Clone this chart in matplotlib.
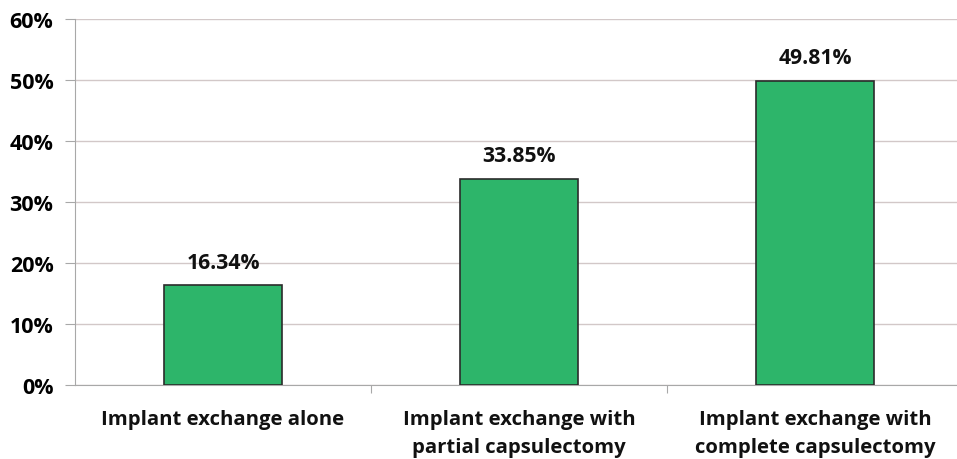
import numpy as np
import matplotlib.pyplot as plt
from matplotlib.ticker import FuncFormatter

# share of patients per treatment group
categories = ['Implant exchange alone',
              'Implant exchange with\npartial capsulectomy',
              'Implant exchange with\ncomplete capsulectomy']
values = [16.34, 33.85, 49.81]
yticks = [0, 10, 20, 30, 40, 50, 60]

plt.rcParams['font.family'] = ['Open Sans', 'DejaVu Sans']

fig = plt.figure(figsize=(9.57, 4.6), dpi=100)
ax = fig.add_axes([75 / 957, 74 / 460, 1 - 75 / 957, 366 / 460])

x = np.arange(len(categories))
ax.bar(x, values, width=0.40, color='#2db56a', edgecolor='#2b2b2b', linewidth=1.2, zorder=3)

for xi, v in zip(x, values):
    ax.text(xi, v + 2.1, f'{v:.2f}%', ha='center', va='bottom',
            fontsize=15.2, fontweight='bold', color='#111111')

ax.set_ylim(0, 60)
ax.set_xlim(-0.5, 2.48)
ax.set_yticks(yticks)
ax.yaxis.set_major_formatter(FuncFormatter(lambda v, p: f'{v:.0f}%'))
ax.yaxis.grid(True, color='#d2c8c8', linewidth=1.0, zorder=0)
ax.tick_params(axis='y', length=7, color='#a8a8a8', labelsize=15.5, pad=8.5)
for lab in ax.get_yticklabels():
    lab.set_fontweight('bold')

# category labels, with small ticks at the group boundaries
ax.set_xticks([0.5, 1.5])
ax.set_xticklabels([])
ax.tick_params(axis='x', length=6, color='#a8a8a8', direction='out')
for xi, c in zip(x, categories):
    ax.text(xi, -3.9, c, ha='center', va='top', fontsize=14.6, fontweight='bold',
            color='#111111', linespacing=1.55)

for s in ['top', 'right']:
    ax.spines[s].set_visible(False)
ax.spines['left'].set_color('#a8a8a8')
ax.spines['bottom'].set_color('#a8a8a8')

fig.savefig('out.png', dpi=100)
